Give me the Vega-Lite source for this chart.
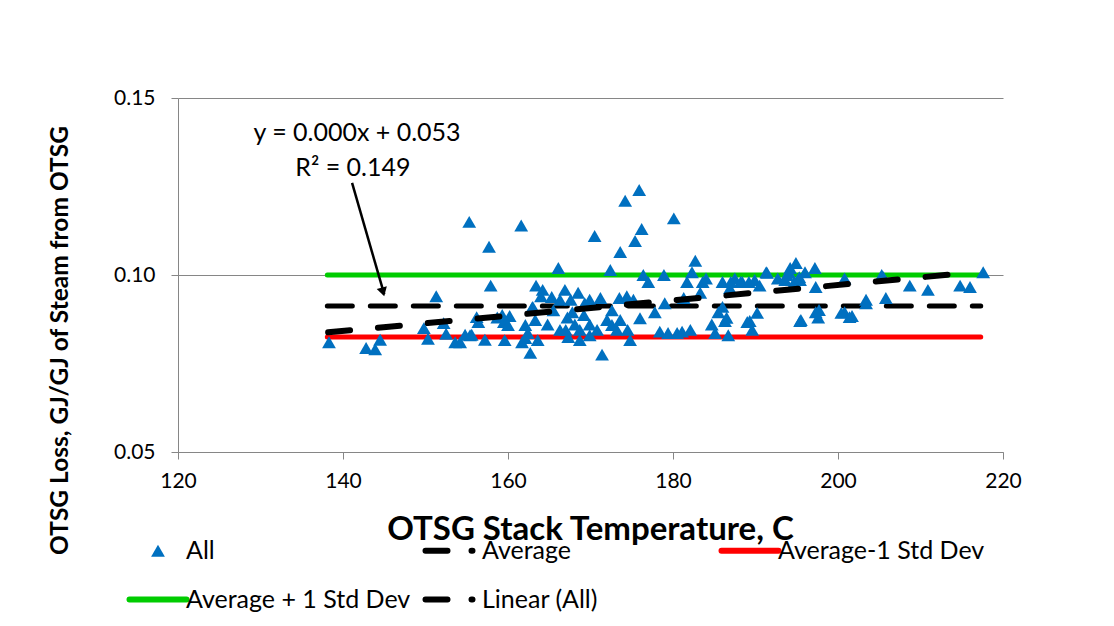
{
  "$schema": "https://vega.github.io/schema/vega-lite/v6.json",
  "width": 825,
  "height": 354,
  "autosize": {"type": "none"},
  "padding": {"left": 178, "top": 98, "right": 111, "bottom": 174},
  "background": "white",
  "config": {
    "view": {"stroke": null},
    "font": "Lato",
    "axis": {"labelFont": "Lato", "titleFont": "Lato", "labelColor": "#000000", "titleColor": "#000000", "domainColor": "#868686", "tickColor": "#868686", "gridColor": "#868686", "domainWidth": 1, "tickWidth": 1, "gridWidth": 1, "labelFlush": false}
  },
  "datasets": {
    "pts": [
      {"T":138.3,"v":0.081},{"T":142.8,"v":0.0794},{"T":143.9,"v":0.079},{"T":144.5,"v":0.0817},{"T":149.8,"v":0.085},
      {"T":150.3,"v":0.082},{"T":151.3,"v":0.094},{"T":152.5,"v":0.0834},{"T":153.6,"v":0.081},{"T":154.2,"v":0.081},
      {"T":155.3,"v":0.115},{"T":155.4,"v":0.083},{"T":156.4,"v":0.0867},{"T":157.2,"v":0.0817},{"T":157.7,"v":0.108},
      {"T":157.9,"v":0.097},{"T":158.7,"v":0.088},{"T":159.5,"v":0.0867},{"T":160.2,"v":0.0884},{"T":161.6,"v":0.114},
      {"T":161.7,"v":0.081},{"T":162.4,"v":0.0836},{"T":162.7,"v":0.078},{"T":163.0,"v":0.091},{"T":163.4,"v":0.097},
      {"T":163.6,"v":0.0816},{"T":164.0,"v":0.094},{"T":164.8,"v":0.086},{"T":165.5,"v":0.09},{"T":166.1,"v":0.102},
      {"T":166.3,"v":0.0845},{"T":166.9,"v":0.0958},{"T":167.2,"v":0.088},{"T":167.3,"v":0.0825},{"T":167.6,"v":0.093},
      {"T":168.1,"v":0.086},{"T":168.5,"v":0.095},{"T":168.7,"v":0.0816},{"T":169.3,"v":0.092},{"T":169.9,"v":0.086},
      {"T":170.5,"v":0.111},{"T":170.8,"v":0.0845},{"T":171.4,"v":0.0775},{"T":172.0,"v":0.0873},{"T":172.4,"v":0.1014},
      {"T":172.6,"v":0.09},{"T":173.2,"v":0.0845},{"T":173.5,"v":0.0935},{"T":173.6,"v":0.1065},{"T":174.2,"v":0.121},
      {"T":174.4,"v":0.094},{"T":174.8,"v":0.0816},{"T":175.4,"v":0.1096},{"T":175.9,"v":0.124},{"T":176.2,"v":0.113},
      {"T":176.4,"v":0.1},{"T":177.0,"v":0.098},{"T":178.4,"v":0.084},{"T":178.9,"v":0.1},{"T":179.0,"v":0.092},
      {"T":179.4,"v":0.0836},{"T":180.1,"v":0.116},{"T":180.5,"v":0.0836},{"T":181.1,"v":0.084},{"T":181.3,"v":0.0935},
      {"T":181.7,"v":0.098},{"T":182.1,"v":0.0845},{"T":182.3,"v":0.1008},{"T":182.7,"v":0.104},{"T":183.3,"v":0.095},
      {"T":183.6,"v":0.098},{"T":184.0,"v":0.099},{"T":184.7,"v":0.086},{"T":185.1,"v":0.0836},{"T":185.5,"v":0.0895},
      {"T":186.0,"v":0.098},{"T":186.3,"v":0.087},{"T":186.7,"v":0.083},{"T":186.9,"v":0.0963},{"T":187.5,"v":0.099},
      {"T":188.4,"v":0.098},{"T":189.3,"v":0.087},{"T":189.6,"v":0.0845},{"T":189.9,"v":0.0986},{"T":190.5,"v":0.097},
      {"T":191.3,"v":0.1008},{"T":192.7,"v":0.099},{"T":193.6,"v":0.0986},{"T":194.2,"v":0.102},{"T":194.7,"v":0.098},
      {"T":194.9,"v":0.1034},{"T":195.4,"v":0.0986},{"T":195.4,"v":0.087},{"T":196.0,"v":0.1008},{"T":197.2,"v":0.102},
      {"T":197.3,"v":0.0895},{"T":197.6,"v":0.088},{"T":200.8,"v":0.099},{"T":200.8,"v":0.0895},{"T":201.7,"v":0.0884},
      {"T":203.4,"v":0.093},{"T":205.3,"v":0.1},{"T":205.8,"v":0.0935},{"T":208.7,"v":0.097},{"T":210.9,"v":0.0958},
      {"T":214.8,"v":0.097},{"T":216.0,"v":0.0966},{"T":217.6,"v":0.1008},
      {"T":152.2,"v":0.0864},{"T":156.2,"v":0.0881},{"T":159.3,"v":0.0887},{"T":160.0,"v":0.0859},{"T":162.1,"v":0.0859},
      {"T":163.3,"v":0.0873},{"T":154.8,"v":0.0831},{"T":155.6,"v":0.0831},{"T":159.6,"v":0.0816},{"T":162.1,"v":0.0822},
      {"T":164.2,"v":0.0958},{"T":165.3,"v":0.0938},{"T":162.9,"v":0.0907},{"T":166.3,"v":0.093},{"T":167.8,"v":0.0895},
      {"T":169.2,"v":0.0887},{"T":169.9,"v":0.093},{"T":171.2,"v":0.0935},{"T":172.6,"v":0.0859},{"T":173.6,"v":0.0873},
      {"T":174.5,"v":0.0845},{"T":176.0,"v":0.0878},{"T":175.2,"v":0.093},{"T":168.7,"v":0.0845},{"T":167.0,"v":0.0845},
      {"T":169.9,"v":0.083},{"T":177.8,"v":0.0895},{"T":186.0,"v":0.091},{"T":186.5,"v":0.0879},{"T":189.0,"v":0.0867},
      {"T":190.2,"v":0.0893},{"T":188.2,"v":0.098},{"T":189.2,"v":0.098},{"T":187.0,"v":0.098},{"T":191.4,"v":0.1006},
      {"T":193.8,"v":0.1},{"T":194.1,"v":0.1006},{"T":195.3,"v":0.0994},{"T":197.3,"v":0.0966},{"T":205.5,"v":0.0994},
      {"T":203.4,"v":0.092},{"T":197.7,"v":0.0901},{"T":195.5,"v":0.0873},{"T":200.4,"v":0.0893},{"T":201.4,"v":0.0881}
    ],
    "lines": [
      {"series":"Average + 1 Std Dev","T":138.1,"v":0.1},{"series":"Average + 1 Std Dev","T":217.3,"v":0.1},
      {"series":"Average-1 Std Dev","T":138.1,"v":0.0825},{"series":"Average-1 Std Dev","T":217.3,"v":0.0825},
      {"series":"Average","T":138.1,"v":0.09125},{"series":"Average","T":217.3,"v":0.09125}
    ],
    "trend": [
      {"series":"Linear (All)","T":138.2,"v":0.0838},{"series":"Linear (All)","T":216.3,"v":0.1007}
    ],
    "notes": [
      {"label":"y = 0.000x + 0.053","T":141.7,"v":0.1401},
      {"label":"R² = 0.149","T":141.2,"v":0.1302}
    ],
    "arrow": [
      {"T":141.1,"v":0.126,"T2":145.0,"v2":0.0945}
    ],
    "head": [
      {"T":144.85,"v":0.0952}
    ]
  },
  "layer": [
    {
      "data": {"name": "lines"},
      "mark": {"type": "line", "strokeWidth": 5, "strokeCap": "round"},
      "encoding": {
        "x": {"field": "T", "type": "quantitative", "scale": {"domain": [120, 220], "nice": false, "zero": false},
              "axis": {"values": [120, 140, 160, 180, 200, 220], "grid": false, "title": "OTSG Stack Temperature, C", "titleFontSize": 33, "titleFontWeight": "bold", "titleBaseline": "middle", "titleX": 412, "titleY": 77, "labelFontSize": 21, "labelPadding": 11, "tickSize": 7}},
        "y": {"field": "v", "type": "quantitative", "scale": {"domain": [0.05, 0.15], "nice": false, "zero": false},
              "axis": {"values": [0.05, 0.1, 0.15], "format": ".2f", "grid": true, "title": "OTSG Loss, GJ/GJ of Steam from OTSG", "titleFontSize": 24.5, "titleFontWeight": "bold", "titleAngle": -90, "titleAlign": "center", "titleBaseline": "middle", "titleX": -118, "titleY": 242, "labelFontSize": 21, "labelPadding": 16, "tickSize": 7}},
        "color": {"field": "series", "type": "nominal",
                  "scale": {"domain": ["All", "Average", "Average-1 Std Dev", "Average + 1 Std Dev", "Linear (All)"], "range": ["#0070C0", "#000000", "#FF0000", "#00CC00", "#000000"]},
                  "legend": {"title": null, "orient": "none", "direction": "horizontal", "legendX": -32.5, "legendY": 440, "columns": 3, "gridAlign": "all", "columnPadding": 3, "rowPadding": 23, "padding": 0,
                             "symbolSize": 3249, "symbolType": "stroke", "labelFontSize": 25, "labelFont": "Lato", "labelColor": "#000000", "labelOffset": 15.5, "labelLimit": 400,
                             "encode": {"symbols": {"update": {
                               "shape": {"signal": "datum.value === 'All' ? 'triangle-up' : 'stroke'"},
                               "size": {"signal": "datum.value === 'All' ? 190 : 3249"},
                               "stroke": {"scale": "color", "field": "value"},
                               "fill": {"scale": "color", "field": "value"},
                               "strokeWidth": {"signal": "datum.value === 'All' ? 0 : 6"},
                               "strokeDash": {"signal": "(datum.value === 'Average' || datum.value === 'Linear (All)') ? [22, 24, 1, 30] : [1, 0]"},
                               "strokeCap": {"value": "round"},
                               "opacity": {"value": 1},
                               "fillOpacity": {"value": 1},
                               "strokeOpacity": {"value": 1}
                             }}}}},
        "strokeDash": {"field": "series", "type": "nominal",
                       "scale": {"domain": ["Average", "Average-1 Std Dev", "Average + 1 Std Dev"], "range": [[25, 18], [1, 0], [1, 0]]},
                       "legend": null}
      }
    },
    {
      "data": {"name": "pts"},
      "transform": [{"calculate": "'All'", "as": "series"}],
      "mark": {"type": "point", "shape": "triangle-up", "filled": true, "size": 190, "opacity": 1},
      "encoding": {
        "x": {"field": "T", "type": "quantitative"},
        "y": {"field": "v", "type": "quantitative"},
        "color": {"field": "series", "type": "nominal"}
      }
    },
    {
      "data": {"name": "trend"},
      "mark": {"type": "line", "strokeWidth": 6, "strokeCap": "round", "strokeDash": [22, 28]},
      "encoding": {
        "x": {"field": "T", "type": "quantitative"},
        "y": {"field": "v", "type": "quantitative"},
        "color": {"field": "series", "type": "nominal"}
      }
    },
    {
      "data": {"name": "notes"},
      "mark": {"type": "text", "fontSize": 25, "font": "Lato", "align": "center", "baseline": "middle", "color": "#000000"},
      "encoding": {
        "x": {"field": "T", "type": "quantitative"},
        "y": {"field": "v", "type": "quantitative"},
        "text": {"field": "label"}
      }
    },
    {
      "data": {"name": "arrow"},
      "mark": {"type": "rule", "strokeWidth": 2.5, "color": "#000000"},
      "encoding": {
        "x": {"field": "T", "type": "quantitative"},
        "y": {"field": "v", "type": "quantitative"},
        "x2": {"field": "T2"},
        "y2": {"field": "v2"}
      }
    },
    {
      "data": {"name": "head"},
      "mark": {"type": "point", "shape": "triangle-down", "filled": true, "size": 110, "angle": -16, "color": "#000000", "opacity": 1},
      "encoding": {
        "x": {"field": "T", "type": "quantitative"},
        "y": {"field": "v", "type": "quantitative"}
      }
    }
  ]
}
